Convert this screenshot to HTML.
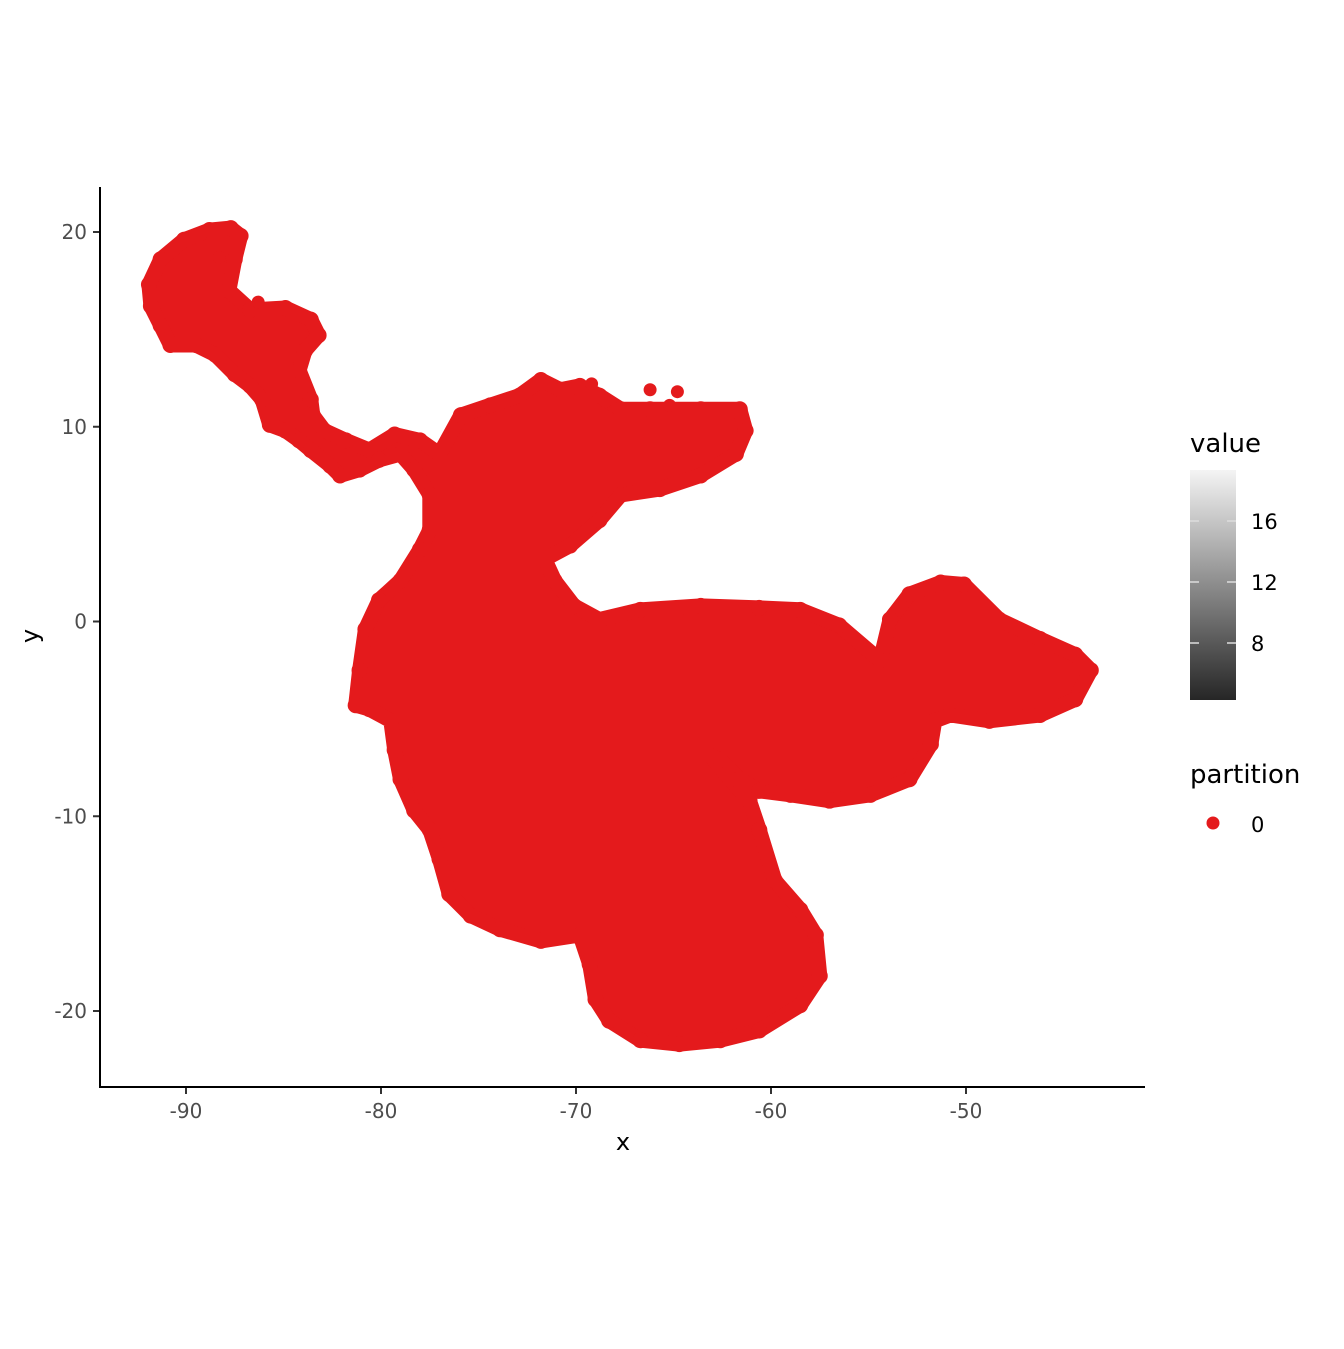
<!DOCTYPE html>
<html><head><meta charset="utf-8">
<style>
html,body{margin:0;padding:0;background:#fff;}
svg text{font-family:"DejaVu Sans","Liberation Sans",sans-serif;}
</style></head>
<body>
<svg id="chart" width="1344" height="1344" viewBox="0 0 1344 1344" xmlns="http://www.w3.org/2000/svg">
<defs>
<linearGradient id="grad" x1="0" y1="1" x2="0" y2="0">
<stop offset="0" stop-color="#262626"/>
<stop offset="0.5" stop-color="#8c8c8c"/>
<stop offset="1" stop-color="#f4f4f4"/>
</linearGradient>
</defs>
<g id="plot"></g>
<line x1="100" y1="187" x2="100" y2="1087.5" stroke="#000" stroke-width="2"/>
<line x1="99" y1="1087" x2="1145" y2="1087" stroke="#000" stroke-width="2"/>
<g id="xticks"></g>
<g id="yticks"></g>
<text x="623" y="1150" font-size="24" text-anchor="middle" fill="#000">x</text>
<text x="38" y="636" font-size="24" text-anchor="middle" fill="#000" transform="rotate(-90 38 636)">y</text>
<g>
<text x="1190" y="452" font-size="26" fill="#000">value</text>
<rect x="1190" y="470" width="46" height="230" fill="url(#grad)"/>
<g id="cbticks"></g>
</g>
<g>
<text x="1190" y="783" font-size="26" fill="#000">partition</text>
<circle cx="1213" cy="823" r="6.5" fill="#e41a1c"/>
<text x="1251" y="832" font-size="21" fill="#000">0</text>
</g>
</svg>
<script>
const outlineX = [-91.9,-91.3,-90.1,-88.8,-87.7,-87.2,-87.5,-87.8,-86.7,-84.9,-83.6,-83.2,-83.9,-84.2,-83.6,-83.5,-82.9,-81.8,-80.6,-79.3,-78.0,-77.0,-75.9,-74.4,-72.9,-71.8,-70.8,-69.8,-68.8,-67.7,-66.2,-63.6,-61.6,-61.3,-61.8,-63.6,-65.7,-67.7,-68.8,-70.3,-71.6,-71.1,-70.1,-68.8,-66.7,-63.6,-60.6,-58.5,-56.5,-54.4,-53.9,-52.9,-51.3,-50.1,-48.3,-46.2,-44.4,-43.6,-44.4,-46.2,-48.8,-50.8,-51.6,-51.8,-52.9,-54.9,-57.0,-59.0,-60.6,-61.6,-62.6,-63.1,-62.1,-61.1,-60.6,-59.8,-58.5,-57.7,-57.5,-58.5,-60.6,-62.6,-64.7,-66.7,-68.3,-69.0,-69.3,-69.8,-71.8,-73.9,-75.4,-76.5,-77.0,-77.5,-78.3,-79.0,-79.3,-79.5,-80.6,-81.3,-81.1,-80.8,-80.1,-79.0,-78.0,-77.5,-77.5,-78.3,-79.0,-80.1,-81.1,-82.1,-82.6,-83.6,-84.2,-84.9,-85.7,-86.1,-86.7,-87.5,-88.5,-89.5,-90.8,-91.3,-91.8];
const outlineY = [17.3,18.6,19.6,20.1,20.2,19.8,18.6,17.0,16.0,16.1,15.5,14.7,13.9,12.9,11.4,10.6,9.8,9.3,8.8,9.6,9.3,8.6,10.6,11.1,11.6,12.4,11.9,12.1,11.6,10.9,10.9,10.9,10.9,9.8,8.6,7.5,6.8,6.5,5.2,3.9,3.2,2.1,0.8,0.1,0.6,0.8,0.7,0.6,-0.2,-2.0,0.1,1.4,2.0,1.9,0.1,-0.9,-1.7,-2.5,-4.0,-4.8,-5.1,-4.8,-5.1,-6.3,-8.1,-8.9,-9.2,-8.9,-8.7,-8.1,-7.1,-6.9,-8.1,-9.2,-10.7,-13.3,-14.8,-16.1,-18.2,-19.7,-21.0,-21.5,-21.7,-21.5,-20.5,-19.4,-17.6,-16.1,-16.4,-15.8,-15.1,-14.0,-12.2,-10.7,-9.7,-8.1,-6.6,-5.1,-4.5,-4.3,-2.5,-0.4,1.1,2.1,3.7,4.7,6.5,7.8,8.6,8.3,7.8,7.5,8.0,8.8,9.3,9.8,10.1,11.4,12.1,12.7,13.7,14.2,14.2,15.2,16.2];
const extraX = [-66.2,-64.8,-68.5,-69.2,-65.2,-86.3,-88.3];
const extraY = [11.9,11.8,11.3,12.2,11.1,16.4,18.7];
const xTicks = [-90,-80,-70,-60,-50];
const yTicks = [20,10,0,-10,-20];
const cbValues = [16,12,8];

const NS = 'http://www.w3.org/2000/svg';
function sx(v){ return 186 + (v + 90) * 19.5; }
function sy(v){ return 621.5 - v * 19.475; }
function cbY(v){ return 521 + (16 - v) * 15.25; }

const plot = document.getElementById('plot');
let d = '';
for (let i = 0; i < outlineX.length; i++) d += (i ? 'L' : 'M') + sx(outlineX[i]).toFixed(1) + ',' + sy(outlineY[i]).toFixed(1);
d += 'Z';
const poly = document.createElementNS(NS, 'path');
poly.setAttribute('d', d);
poly.setAttribute('fill', '#e41a1c');
poly.setAttribute('stroke', '#e41a1c');
poly.setAttribute('stroke-width', '15');
poly.setAttribute('stroke-linejoin', 'round');


plot.appendChild(poly);
for (let i = 0; i < outlineX.length; i++) {
  const c = document.createElementNS(NS, 'circle');
  c.setAttribute('cx', sx(outlineX[i]));
  c.setAttribute('cy', sy(outlineY[i]));
  c.setAttribute('r', '8');
  c.setAttribute('fill', '#e41a1c');
  
  
  plot.appendChild(c);
}
for (let i = 0; i < extraX.length; i++) {
  const c = document.createElementNS(NS, 'circle');
  c.setAttribute('cx', sx(extraX[i]));
  c.setAttribute('cy', sy(extraY[i]));
  c.setAttribute('r', '6.5');
  c.setAttribute('fill', '#e41a1c');
  
  
  plot.appendChild(c);
}

const xg = document.getElementById('xticks');
xTicks.forEach(v => {
  const l = document.createElementNS(NS, 'line');
  l.setAttribute('x1', sx(v)); l.setAttribute('x2', sx(v));
  l.setAttribute('y1', 1088); l.setAttribute('y2', 1094);
  l.setAttribute('stroke', '#333'); l.setAttribute('stroke-width', '2');
  
  
  xg.appendChild(l);
  const t = document.createElementNS(NS, 'text');
  t.setAttribute('x', sx(v)); t.setAttribute('y', 1118);
  t.setAttribute('font-size', '20'); t.setAttribute('fill', '#4d4d4d');
  t.setAttribute('text-anchor', 'middle');
  
  
  t.textContent = v;
  xg.appendChild(t);
});
const yg = document.getElementById('yticks');
yTicks.forEach(v => {
  const l = document.createElementNS(NS, 'line');
  l.setAttribute('x1', 93); l.setAttribute('x2', 99);
  l.setAttribute('y1', sy(v)); l.setAttribute('y2', sy(v));
  l.setAttribute('stroke', '#333'); l.setAttribute('stroke-width', '2');
  
  
  yg.appendChild(l);
  const t = document.createElementNS(NS, 'text');
  t.setAttribute('x', 87); t.setAttribute('y', sy(v) + 7);
  t.setAttribute('font-size', '20'); t.setAttribute('fill', '#4d4d4d');
  t.setAttribute('text-anchor', 'end');
  
  
  t.textContent = v;
  yg.appendChild(t);
});
const cg = document.getElementById('cbticks');
cbValues.forEach(v => {
  [[1190,1199],[1227,1236]].forEach(p => {
    const l = document.createElementNS(NS, 'line');
    l.setAttribute('x1', p[0]); l.setAttribute('x2', p[1]);
    l.setAttribute('y1', cbY(v)); l.setAttribute('y2', cbY(v));
    l.setAttribute('stroke', '#ddd'); l.setAttribute('stroke-width', '1.5');
    
    
    cg.appendChild(l);
  });
  const t = document.createElementNS(NS, 'text');
  t.setAttribute('x', 1251); t.setAttribute('y', cbY(v) + 8);
  t.setAttribute('font-size', '21'); t.setAttribute('fill', '#000');
  
  
  t.textContent = v;
  cg.appendChild(t);
});
</script>
</body></html>
